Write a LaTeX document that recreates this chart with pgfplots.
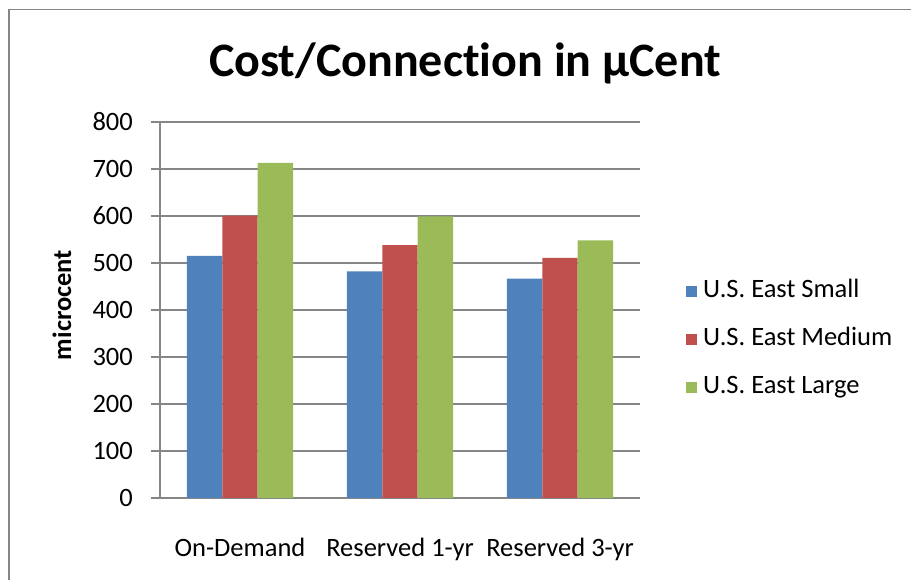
\documentclass[border=0pt]{standalone}
\usepackage{pgfplots}
\pgfplotsset{compat=1.18}
\usepackage{fontspec}
\setmainfont{Carlito}[Ligatures=NoCommon]
\definecolor{xblue}{HTML}{4F81BD}
\definecolor{xred}{HTML}{C0504D}
\definecolor{xgreen}{HTML}{9BBB59}
\definecolor{xgray}{HTML}{868686}
\begin{document}
\begin{tikzpicture}[x=1pt,y=1pt]
\useasboundingbox (0,0) rectangle (911,580);
\draw[xgray, line width=1.5pt] (9,0) -- (9,570.5) -- (911,570.5);
\node[anchor=base, font=\fontsize{48}{56}\selectfont\bfseries] at (465,503) {Cost/Connection in µCent};
\node[rotate=90, font=\fontsize{26.5}{32}\selectfont\bfseries] at (62,275) {microcent};
\begin{axis}[
  at={(160pt,82pt)}, anchor=south west,
  scale only axis, width=480pt, height=376pt,
  xmin=-0.5, xmax=2.5, ymin=0, ymax=800,
  axis x line*=bottom, axis y line*=left,
  axis line style={xgray, line width=1.5pt, -},
  ytick={0,100,...,800},
  xtick={0,1,2},
  xticklabels={On-Demand, Reserved 1-yr, Reserved 3-yr},
  ymajorgrids, grid style={xgray, line width=1.5pt},
  tick align=outside, major tick length=9pt,
  y tick style={xgray, line width=1.5pt},
  x tick style={draw=none},
  /pgf/number format/assume math mode=true,
  tick label style={font=\fontsize{26.5}{32}\selectfont},
  yticklabel style={anchor=east, inner sep=0pt, xshift=-18pt},
  xticklabel style={anchor=base, inner sep=0pt, yshift=-50pt},
  xticklabel shift=0pt,
  legend style={at={(1.0896,0.4205)}, anchor=west, draw=none, fill=none,
    font=\fontsize{26.5}{32}\selectfont,
    nodes={inner sep=0pt, text height=19pt, text depth=7pt},
    row sep=22pt, column sep=0pt},
  legend cell align=left,
  ybar, bar width=0.2215,
  legend image code/.code={\fill[#1] (0pt,-5.5pt) rectangle (11pt,5.5pt);},
  clip=false,
]
\addplot[fill=xblue, draw=none, bar shift=-0.2215] coordinates {(0,515) (1,482) (2,467)};
\addplot[fill=xred, draw=none, bar shift=0] coordinates {(0,601) (1,538) (2,511)};
\addplot[fill=xgreen, draw=none, bar shift=0.2215] coordinates {(0,713) (1,599) (2,548)};
\legend{\hspace{6pt}U.S. East Small, \hspace{6pt}U.S. East Medium, \hspace{6pt}U.S. East Large}
\end{axis}
\end{tikzpicture}
\end{document}
